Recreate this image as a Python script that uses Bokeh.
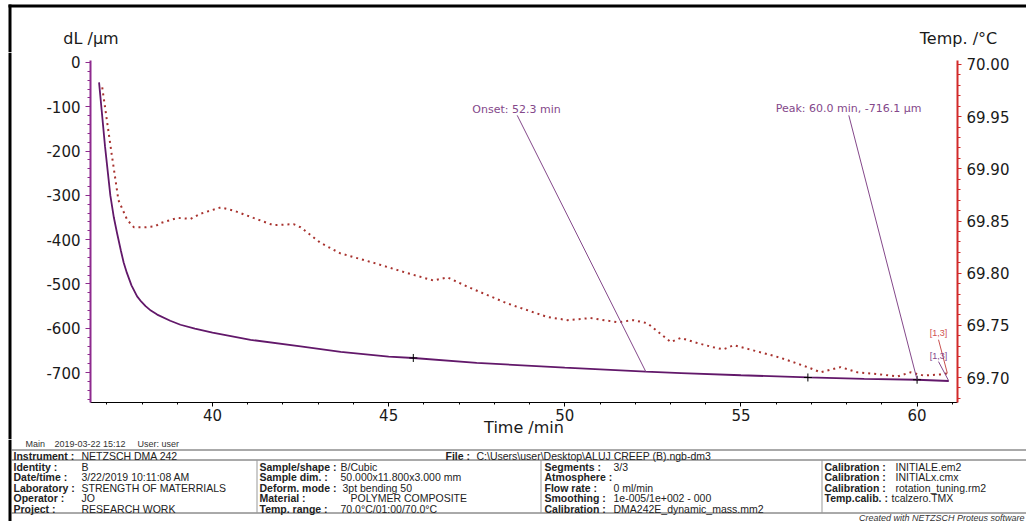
from bokeh.plotting import figure
from bokeh.models import Range1d, LinearAxis, SingleIntervalTicker, PrintfTickFormatter
from bokeh.layouts import column, row
from bokeh.embed import file_html
from bokeh.resources import INLINE
from bokeh.core.properties import value

# ---------------- data ----------------
dl_time = [36.78, 36.95, 37.10, 37.20, 37.29, 37.40, 37.48, 37.57, 37.70, 37.86, 37.98, 38.10, 38.25,
           38.43, 38.80, 39.09, 39.50, 40.00, 41.08, 42.50, 43.64, 45.00, 45.70, 47.50, 50.00,
           52.30, 53.30, 55.00, 56.90, 58.50, 60.00, 60.90]
dl_um = [-45, -190, -300, -350, -385, -425, -452, -475, -503, -528, -540, -550, -560,
         -569, -583, -592, -601, -610, -626, -641, -653, -664, -667, -678, -689,
         -698, -701, -706, -711, -714, -716.1, -719]

temp_time = [36.87, 37.13, 37.33, 37.58, 37.77, 38.10, 38.38, 38.52, 39.01, 39.38, 39.66, 40.23,
             40.60, 41.16, 41.73, 42.30, 42.50, 43.07, 43.63, 44.57, 45.54, 46.27, 46.67, 47.24,
             48.37, 49.51, 50.08, 50.73, 51.50, 51.95, 52.35, 53.01, 53.29, 53.77, 54.22, 54.50,
             54.79, 55.47, 56.12, 56.89, 57.26, 57.83, 58.31, 58.96, 59.44, 59.81, 60.18, 60.66,
             60.86]
temp_c = [69.978, 69.916, 69.870, 69.851, 69.844, 69.844, 69.845, 69.848, 69.853, 69.852, 69.857, 69.863,
          69.860, 69.853, 69.846, 69.847, 69.844, 69.829, 69.819, 69.810, 69.800, 69.793, 69.796, 69.787,
          69.771, 69.758, 69.755, 69.757, 69.753, 69.755, 69.752, 69.734, 69.738, 69.733, 69.729, 69.727,
          69.731, 69.725, 69.719, 69.710, 69.705, 69.710, 69.705, 69.703, 69.701, 69.705, 69.702, 69.703,
          69.704]

mark_time = [45.7, 56.9, 60.0]
mark_dl = [-667, -711, -716.1]

onset_time, onset_dl = 52.3, -698
peak_time, peak_dl = 60.0, -716.1
onset_text = "Onset: 52.3 min"
peak_text = "Peak: 60.0 min, -716.1 µm"

# footer table
info_line = ["Main", "2019-03-22 15:12", "User: user"]
col1_labels = ["Identity :", "Date/time :", "Laboratory :", "Operator :", "Project :"]
col1_values = ["B", "3/22/2019 10:11:08 AM", "STRENGTH OF MATERRIALS", "JO", "RESEARCH WORK"]
col2_labels = ["Sample/shape :", "Sample dim. :", "Deform. mode :", "Material :", "Temp. range :"]
col2_values = ["B/Cubic", "50.000x11.800x3.000 mm", "3pt bending 50", "POLYMER COMPOSITE", "70.0°C/01:00/70.0°C"]
col3_labels = ["Segments :", "Atmosphere :", "Flow rate :", "Smoothing :", "Calibration :"]
col3_values = ["3/3", "", "0 ml/min", "1e-005/1e+002 - 000", "DMA242E_dynamic_mass.mm2"]
col4_labels = ["Calibration :", "Calibration :", "Calibration :", "Temp.calib. :"]
col4_values = ["INITIALE.em2", "INITIALx.cmx", "rotation_tuning.rm2", "tcalzero.TMX"]

# ---------------- layout constants (page pixels) ----------------
W = 1026
HEAD_H = 52
MID_BOTTOM = 439
STRIP_W = 12
FL, FR, FT, FB = 90, 957, 60, 403          # plot frame in page pixels
XMIN, XMAX = 36.537, 61.147
YMIN, YMAX = -767.5, 4.5
TMIN, TMAX = 69.6761, 70.0038

FONT = "DejaVu Sans"
TFONT = "Liberation Sans"
PURPLE = "#62186A"
AXPURPLE = "#8E2A8E"
ANNO = "#84488A"
RED = "#D22A2A"
DOTRED = "#A8322E"


def tx(px):
    return XMIN + (px - FL) * (XMAX - XMIN) / (FR - FL)


def dy(py):
    return YMAX - (py - FT) * (YMAX - YMIN) / (FB - FT)


def ty(py):
    return TMAX - (py - FT) * (TMAX - TMIN) / (FB - FT)


def blank(w, h, xr, yr):
    f = figure(width=w, height=h, x_range=xr, y_range=yr, output_backend="svg",
               toolbar_location=None, x_axis_type=None, y_axis_type=None,
               min_border=0, min_border_left=0, min_border_right=0,
               min_border_top=0, min_border_bottom=0, frame_align=False)
    f.outline_line_color = None
    f.background_fill_color = "white"
    f.border_fill_color = "white"
    return f


# ---------------- header ----------------
head = blank(W, HEAD_H, Range1d(0, W), Range1d(HEAD_H, 0))
head.segment(x0=[8, 9.5], y0=[5.5, 4], x1=[W, 9.5], y1=[5.5, HEAD_H], line_color="black", line_width=3)
head.text(x=[90.5], y=[38], text=["dL /µm"], text_font=value(FONT), text_font_size="16px",
          text_align="center", text_baseline="middle", text_color="#1a1a1a")
head.text(x=[958], y=[38], text=["Temp. /°C"], text_font=value(FONT), text_font_size="16px",
          text_align="center", text_baseline="middle", text_color="#1a1a1a")

# ---------------- left strip ----------------
strip = blank(STRIP_W, MID_BOTTOM - HEAD_H, Range1d(0, STRIP_W), Range1d(MID_BOTTOM, HEAD_H))
strip.segment(x0=[9.5], y0=[HEAD_H], x1=[9.5], y1=[MID_BOTTOM], line_color="black", line_width=3)

# ---------------- main chart ----------------
p = figure(width=W - STRIP_W, height=MID_BOTTOM - HEAD_H,
           x_range=Range1d(XMIN, XMAX), y_range=Range1d(YMIN, YMAX),
           output_backend="svg", toolbar_location=None, x_axis_type=None, y_axis_type=None,
           min_border_left=FL - STRIP_W, min_border_right=W - FR,
           min_border_top=FT - HEAD_H, min_border_bottom=MID_BOTTOM - FB, frame_align=False)
p.outline_line_color = None
p.extra_y_ranges = {"temp": Range1d(TMIN, TMAX)}

xa = LinearAxis(ticker=SingleIntervalTicker(interval=5, num_minor_ticks=5),
                axis_label="Time /min")
xa.axis_line_color = "black"
xa.major_tick_line_color = "black"
xa.minor_tick_line_color = "black"
xa.major_tick_out, xa.major_tick_in = 4, 0
xa.minor_tick_out, xa.minor_tick_in = 2, 0
xa.major_label_standoff = 2
xa.axis_label_standoff = -6
xa.axis_label_text_font = FONT
xa.axis_label_text_font_size = "16px"
xa.axis_label_text_font_style = "normal"
xa.axis_label_text_color = "#1a1a1a"
p.add_layout(xa, "below")

ya = LinearAxis(ticker=SingleIntervalTicker(interval=100, num_minor_ticks=5),
                formatter=PrintfTickFormatter(format="%d"))
ya.axis_line_color = AXPURPLE
ya.axis_line_width = 2
ya.major_tick_line_color = AXPURPLE
ya.minor_tick_line_color = AXPURPLE
ya.major_tick_out, ya.major_tick_in = 5, 0
ya.minor_tick_out, ya.minor_tick_in = 3, 0
ya.major_label_standoff = 5
p.add_layout(ya, "left")

ra = LinearAxis(y_range_name="temp", ticker=SingleIntervalTicker(interval=0.05, num_minor_ticks=5),
                formatter=PrintfTickFormatter(format="%.2f"))
ra.axis_line_color = RED
ra.axis_line_width = 2
ra.major_tick_line_color = RED
ra.minor_tick_line_color = RED
ra.major_tick_out, ra.major_tick_in = 4, 0
ra.minor_tick_out, ra.minor_tick_in = 3, 0
ra.major_label_standoff = 5
p.add_layout(ra, "right")

for ax in (xa, ya, ra):
    ax.major_label_text_font = FONT
    ax.major_label_text_font_size = "15px"
    ax.major_label_text_color = "#1a1a1a"

p.xgrid.visible = False
p.ygrid.visible = False

# curves
p.line(temp_time, temp_c, y_range_name="temp", line_color=DOTRED, line_width=2, line_dash="2 4")
p.line(dl_time, dl_um, line_color=PURPLE, line_width=1.8)
p.scatter(mark_time, mark_dl, marker="cross", size=8, line_color="black", line_width=1)

# annotation leader lines
p.line([tx(516.7), onset_time], [dy(115), onset_dl], line_color=ANNO, line_width=1)
p.line([tx(848.3), peak_time], [dy(115), peak_dl], line_color=ANNO, line_width=1)
p.line([tx(938), temp_time[-1]], [ty(340), temp_c[-1]], y_range_name="temp", line_color="#C85050", line_width=1)
p.line([tx(938), dl_time[-1]], [dy(362), dl_um[-1]], line_color=ANNO, line_width=1)

p.text(x=[tx(516), tx(848)], y=[dy(109), dy(108)], text=[onset_text, peak_text],
       text_font=value(FONT), text_font_size="11px", text_color=ANNO,
       text_align="center", text_baseline="middle")
p.text(x=[tx(938)], y=[dy(333)], text=["[1,3]"], text_font=value(TFONT), text_font_size="9px",
       text_color="#D05050", text_align="center", text_baseline="middle")
p.text(x=[tx(938)], y=[dy(356)], text=["[1,3]"], text_font=value(TFONT), text_font_size="9px",
       text_color=ANNO, text_align="center", text_baseline="middle")

# ---------------- footer table ----------------
foot = blank(W, 521 - MID_BOTTOM, Range1d(0, W), Range1d(521, MID_BOTTOM))
foot.segment(x0=[9.5], y0=[MID_BOTTOM], x1=[9.5], y1=[521], line_color="black", line_width=3)
foot.segment(x0=[11, 11, 11], y0=[449.5, 459.5, 512.5], x1=[W, W, W], y1=[449.5, 459.5, 512.5],
             line_color="#555555", line_width=1)
foot.segment(x0=[256.5, 540.5, 821.5], y0=[459.5] * 3, x1=[256.5, 540.5, 821.5], y1=[512.5] * 3,
             line_color="#999999", line_width=1)

rows_y = [466, 476.5, 487, 497.5, 508]


def put(xs, ys, texts, bold=False, italic=False, size="10.5px", color="#222222", align="left"):
    style = "bold" if bold else ("italic" if italic else "normal")
    foot.text(x=xs, y=ys, text=texts, text_font=value(TFONT), text_font_size=size,
              text_font_style=style, text_color=color, text_baseline="middle", text_align=align)


put([25, 54, 137], [443.5] * 3, info_line, size="9px", color="#333333")
put([13], [455], ["Instrument :"], bold=True)
put([81], [455], ["NETZSCH DMA 242"])
put([445], [455], ["File :"], bold=True)
put([476], [455], ["C:\\Users\\user\\Desktop\\ALUJ CREEP (B).ngb-dm3"])

put([13] * 5, rows_y, col1_labels, bold=True)
put([81] * 5, rows_y, col1_values)
put([259] * 5, rows_y, col2_labels, bold=True)
put([340, 340, 342, 350, 340], rows_y, col2_values)
put([544] * 5, rows_y, col3_labels, bold=True)
put([613] * 5, rows_y, col3_values)
put([824] * 4, rows_y[:4], col4_labels, bold=True)
put([895, 895, 895, 891], rows_y[:4], col4_values)
put([1024], [517], ["Created with NETZSCH Proteus software"], italic=True, size="9px",
    color="#333333", align="right")

layout = column(head, row(strip, p), foot)
open("out.html", "w").write(file_html(layout, INLINE))
